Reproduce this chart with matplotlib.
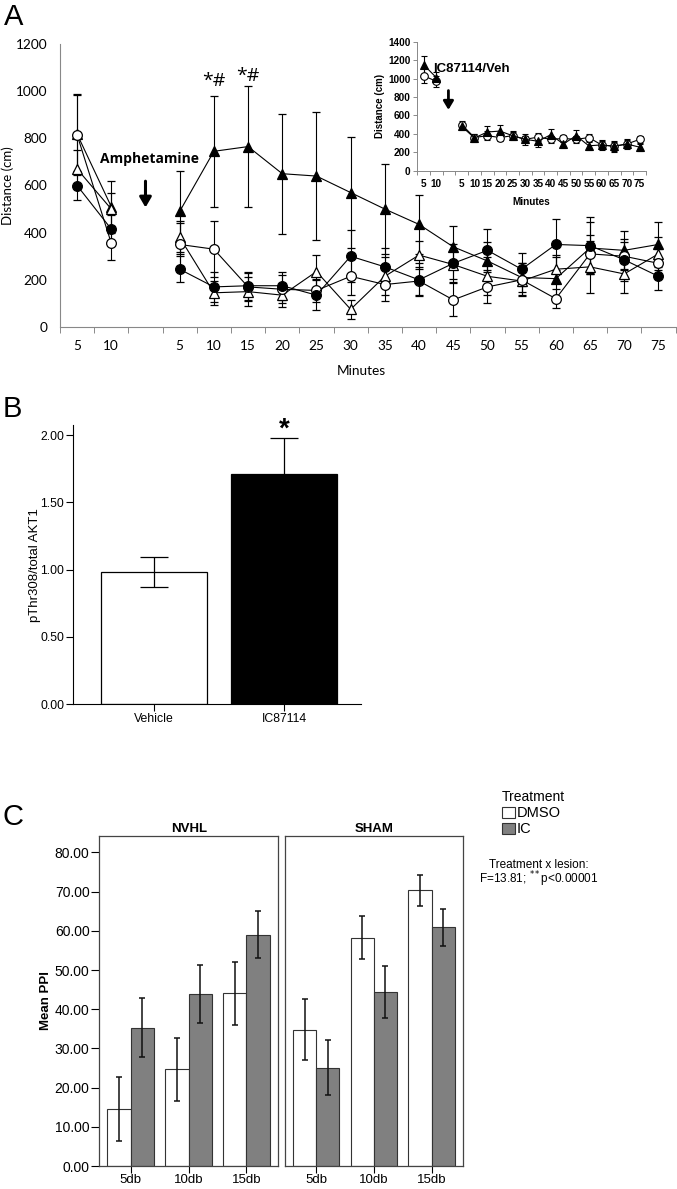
import numpy as np
import matplotlib
matplotlib.use("Agg")
import matplotlib.pyplot as plt
from matplotlib.patches import Patch

# ---------- data ----------
# panel A: 2 baseline bins, a gap (injection), then 15 bins after injection
a_labels = ["5", "10", "", "5", "10", "15", "20", "25", "30", "35", "40",
            "45", "50", "55", "60", "65", "70", "75"]
nan = np.nan
filled_tri = [818, 510, nan, 490, 745, 765, 650, 640, 570, 500, 435, 340, 280, 210, 205, 335, 325, 350]
filled_tri_err = [170, 110, nan, 170, 235, 255, 255, 270, 235, 190, 125, 90, 80, 60, 90, 110, 80, 95]
open_circ = [815, 355, nan, 350, 330, 170, 160, 155, 215, 180, 195, 115, 170, 200, 120, 310, 300, 270]
open_circ_err = [170, 70, nan, 90, 120, 60, 60, 50, 80, 70, 60, 70, 70, 70, 40, 80, 60, 60]
filled_circ = [600, 415, nan, 245, 170, 175, 175, 135, 300, 255, 200, 270, 325, 245, 350, 345, 285, 215]
filled_circ_err = [60, 60, nan, 55, 65, 60, 60, 65, 110, 80, 70, 80, 90, 70, 110, 120, 90, 60]
open_tri = [670, 500, nan, 380, 145, 150, 135, 235, 75, 215, 305, 265, 215, 195, 245, 255, 225, 310]
open_tri_err = [80, 70, nan, 70, 50, 60, 50, 70, 40, 80, 60, 60, 80, 60, 60, 110, 80, 70]

# inset of panel A
inset_veh = [1030, 970, nan, 500, 360, 380, 360, 380, 340, 365, 340, 350, 340, 360, 280, 265, 290, 340]
inset_veh_err = [80, 60, nan, 40, 40, 50, 40, 40, 40, 40, 40, 40, 40, 40, 40, 50, 40, 40]
inset_ic = [1150, 1010, nan, 480, 355, 420, 430, 380, 340, 320, 390, 290, 380, 270, 280, 265, 290, 255]
inset_ic_err = [100, 60, nan, 40, 40, 60, 70, 50, 60, 60, 60, 40, 60, 40, 50, 60, 50, 40]

# panel B
b_groups = ["Vehicle", "IC87114"]
b_values = [0.985, 1.71]
b_err = [0.112, 0.27]

# panel C
c_levels = ["5db", "10db", "15db"]
nvhl_dmso = [14.5, 24.7, 44.1]
nvhl_dmso_err = [8.1, 8.0, 8.0]
nvhl_ic = [35.3, 43.9, 59.0]
nvhl_ic_err = [7.5, 7.3, 6.0]
sham_dmso = [34.8, 58.3, 70.3]
sham_dmso_err = [7.8, 5.4, 4.0]
sham_ic = [25.1, 44.4, 60.9]
sham_ic_err = [7.1, 6.7, 4.8]

W, H = 677, 1189
fig = plt.figure(figsize=(W / 100, H / 100), dpi=100)


def box(l, t, r, b):
    # pixel box -> figure fraction rect
    return [l / W, 1 - b / H, (r - l) / W, (b - t) / H]


# ---------- panel A ----------
fontA = ["Lato", "DejaVu Sans"]
fontO = ["Open Sans", "DejaVu Sans"]
axA = fig.add_axes(box(60, 44, 675.5, 327))
x = np.arange(len(a_labels))
series = [
    (filled_tri, filled_tri_err, "^", "black"),
    (open_tri, open_tri_err, "^", "white"),
    (open_circ, open_circ_err, "o", "white"),
    (filled_circ, filled_circ_err, "o", "black"),
]
for vals, err, mk, fc in series:
    axA.errorbar(x, vals, yerr=err, color="black", lw=0.8, elinewidth=0.8,
                 capsize=3, capthick=0.8, marker=mk, ms=7.5 if mk == "^" else 7,
                 mfc=fc, mec="black", mew=0.9)
axA.set_xlim(-0.5, len(a_labels) - 0.5)
axA.set_ylim(0, 1200)
axA.set_yticks(np.arange(0, 1201, 200))
axA.set_xticks(np.arange(-0.5, len(a_labels), 1))
axA.set_xticklabels([])
axA.set_xticks(x, minor=True)
axA.set_xticklabels(a_labels, minor=True)
axA.tick_params(axis="x", which="major", length=4, width=0.6, color="#777777", direction="out")
axA.tick_params(axis="x", which="minor", length=0, pad=9)
axA.tick_params(axis="y", length=0, pad=9)
for lab in axA.get_xticklabels(minor=True) + axA.get_yticklabels():
    lab.set_fontfamily(fontA)
    lab.set_fontsize(9.8)
for s in ["top", "right"]:
    axA.spines[s].set_visible(False)
for s in ["left", "bottom"]:
    axA.spines[s].set_color("#888888")
    axA.spines[s].set_linewidth(0.8)
axA.set_ylabel("Distance (cm)", family=fontA, fontsize=9.5)
axA.yaxis.set_label_coords(-0.074, 0.5)
axA.set_xlabel("Minutes", family=fontA, fontsize=9.8)
axA.xaxis.set_label_coords(0.49, -0.135)
axA.annotate("", xy=(2, 495), xytext=(2, 630),
             arrowprops=dict(arrowstyle="-|>,head_width=0.35,head_length=0.6",
                             lw=2.2, color="black"))
axA.text(2.12, 712, "Amphetamine", family=fontO, fontsize=10, weight="bold",
         ha="center", va="center")
axA.text(4, 1045, "*#", family=fontO, fontsize=14, ha="center", va="center")
axA.text(5, 1065, "*#", family=fontO, fontsize=14, ha="center", va="center")

# inset
fontI = ["Liberation Sans", "DejaVu Sans"]
axI = fig.add_axes(box(417.3, 41.7, 646, 170.7))
for vals, err, mk, fc in [(inset_veh, inset_veh_err, "o", "white"),
                          (inset_ic, inset_ic_err, "^", "black")]:
    axI.errorbar(x, vals, yerr=err, color="black", lw=0.8, elinewidth=0.8,
                 capsize=2, capthick=0.8, marker=mk, ms=5.5, mfc=fc,
                 mec="black", mew=0.8)
axI.set_xlim(-0.5, len(a_labels) - 0.5)
axI.set_ylim(0, 1400)
axI.set_yticks(np.arange(0, 1401, 200))
axI.set_xticks(np.arange(-0.5, len(a_labels), 1))
axI.set_xticklabels([])
axI.set_xticks(x, minor=True)
axI.set_xticklabels(a_labels, minor=True)
axI.tick_params(axis="x", which="major", length=3, width=0.6, color="#777777")
axI.tick_params(axis="x", which="minor", length=0, pad=6)
axI.tick_params(axis="y", length=3, width=0.6, color="#777777", pad=2)
for lab in axI.get_xticklabels(minor=True) + axI.get_yticklabels():
    lab.set_fontfamily(fontI)
    lab.set_fontsize(7.2)
    lab.set_fontweight("bold")
for s in ["top", "right"]:
    axI.spines[s].set_visible(False)
for s in ["left", "bottom"]:
    axI.spines[s].set_color("#888888")
    axI.spines[s].set_linewidth(0.7)
axI.set_ylabel("Distance (cm)", family=fontI, fontsize=7, weight="bold", labelpad=2)
axI.set_xlabel("Minutes", family=fontI, fontsize=7.2, weight="bold", labelpad=6)
axI.annotate("", xy=(1.95, 630), xytext=(1.95, 900),
             arrowprops=dict(arrowstyle="-|>,head_width=0.3,head_length=0.5",
                             lw=2.0, color="black"))
axI.text(0.72, 1100, "IC87114/Veh", family=fontI, fontsize=9.5, weight="bold",
         ha="left", va="center")

# ---------- panel B ----------
fontN = ["Liberation Sans Narrow", "Liberation Sans", "DejaVu Sans"]
axB = fig.add_axes(box(73.3, 425, 361, 704.3))
xb = np.arange(len(b_groups))
axB.bar(xb, b_values, width=0.815, color=["white", "black"], edgecolor="black", lw=0.9)
axB.errorbar(xb, b_values, yerr=b_err, fmt="none", ecolor="black", elinewidth=0.9,
             capsize=10, capthick=0.9)
axB.set_xlim(-0.62, 1.59)
axB.set_ylim(0, 2.075)
axB.set_yticks([0, 0.5, 1.0, 1.5, 2.0])
axB.set_yticklabels(["0.00", "0.50", "1.00", "1.50", "2.00"])
axB.set_xticks(xb)
axB.set_xticklabels(b_groups)
axB.tick_params(axis="both", length=5, width=0.8, pad=1.5)
for lab in axB.get_xticklabels() + axB.get_yticklabels():
    lab.set_fontfamily(fontN)
    lab.set_fontsize(8.8)
for s in ["top", "right"]:
    axB.spines[s].set_visible(False)
axB.set_ylabel("pThr308/total AKT1", family=fontN, fontsize=9.5)
axB.yaxis.set_label_coords(-0.112, 0.5)
axB.text(1, 2.04, "*", fontsize=20, weight="bold", ha="center", va="center",
         family=fontI)

# ---------- panel C ----------
xc = np.arange(len(c_levels))
bw = 0.4
axes_c = [
    (box(99.3, 836, 278.3, 1166), "NVHL", nvhl_dmso, nvhl_dmso_err, nvhl_ic, nvhl_ic_err),
    (box(285, 836, 463.3, 1166), "SHAM", sham_dmso, sham_dmso_err, sham_ic, sham_ic_err),
]
for i, (rect, title, d, de, ic, ice) in enumerate(axes_c):
    ax = fig.add_axes(rect)
    ax.bar(xc - bw / 2, d, width=bw, color="white", edgecolor="#333333", lw=0.8)
    ax.bar(xc + bw / 2, ic, width=bw, color="#808080", edgecolor="#333333", lw=0.8)
    ax.errorbar(xc - bw / 2, d, yerr=de, fmt="none", ecolor="#111111",
                elinewidth=1.1, capsize=2.5, capthick=1.1)
    ax.errorbar(xc + bw / 2, ic, yerr=ice, fmt="none", ecolor="#111111",
                elinewidth=1.1, capsize=2.5, capthick=1.1)
    ax.set_xlim(-0.54, 2.55)
    ax.set_ylim(0, 84.2)
    ax.set_xticks(xc)
    ax.set_xticklabels(c_levels)
    ax.set_yticks(np.arange(0, 81, 10))
    ax.set_yticklabels(["%.2f" % v for v in np.arange(0, 81, 10)])
    ax.tick_params(axis="x", length=5, width=0.8, pad=0.5)
    ax.tick_params(axis="y", length=6, width=0.8, pad=1)
    for s in ax.spines.values():
        s.set_color("#444444")
        s.set_linewidth(0.9)
    for lab in ax.get_yticklabels():
        lab.set_fontfamily(fontN)
        lab.set_fontsize(10)
    for lab in ax.get_xticklabels():
        lab.set_fontfamily(fontN)
        lab.set_fontsize(9.5)
    ax.set_title(title, family=fontI, fontsize=9.5, weight="bold", pad=3)
    if i == 0:
        ax.set_ylabel("Mean PPI", family=fontI, fontsize=9.5, weight="bold")
        ax.yaxis.set_label_coords(-0.266, 0.5)
    else:
        ax.tick_params(axis="y", left=False, labelleft=False)

handles = [Patch(facecolor="white", edgecolor="#333333", lw=0.8),
           Patch(facecolor="#808080", edgecolor="#333333", lw=0.8)]
leg = fig.legend(handles, ["DMSO", "IC"], title="Treatment", loc="upper left",
                 bbox_to_anchor=(502 / W, 1 - 790 / H), frameon=False,
                 borderpad=0, borderaxespad=0, handlelength=0.9, handleheight=0.8,
                 handletextpad=0.1, labelspacing=0.15, alignment="left",
                 prop={"family": fontI, "size": 10.5},
                 title_fontproperties={"family": fontI, "size": 10})
fig.text(539 / W, 1 - 865 / H, "Treatment x lesion:", family=fontN, fontsize=8.5,
         ha="center", va="center")
fig.text(539 / W, 1 - 879 / H, r"F=13.81; $^{**}$p<0.00001", family=fontN,
         fontsize=8.5, ha="center", va="center")

# panel letters
fig.text(4 / W, 1 - 25 / H, "A", fontsize=21, family=fontI, va="baseline")
fig.text(3 / W, 1 - 417 / H, "B", fontsize=21, family=fontI, va="baseline")
fig.text(3 / W, 1 - 825 / H, "C", fontsize=21, family=fontI, va="baseline")

fig.savefig("out.png", dpi=100)
